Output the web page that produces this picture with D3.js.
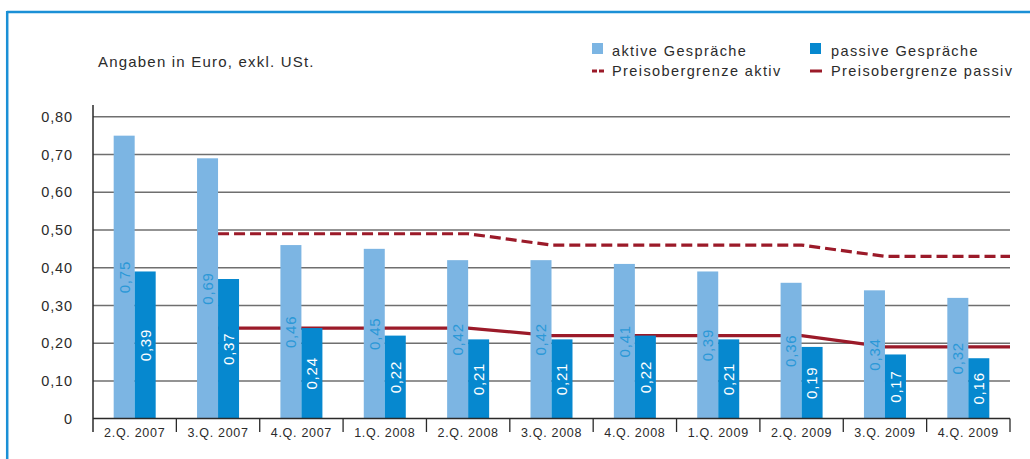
<!DOCTYPE html>
<html>
<head>
<meta charset="utf-8">
<script src="https://cdn.jsdelivr.net/npm/d3@7"></script>
<style>
  html, body { margin: 0; padding: 0; background: #fff; }
  svg { display: block; }
  text { font-family: "Liberation Sans", Arial, Helvetica, sans-serif; }
</style>
</head>
<body>
<svg id="chart" width="1030" height="459"></svg>
<script>
// Quarterly call prices (Euro, excl. VAT)
const quarters = ["2.Q. 2007", "3.Q. 2007", "4.Q. 2007", "1.Q. 2008", "2.Q. 2008", "3.Q. 2008",
                  "4.Q. 2008", "1.Q. 2009", "2.Q. 2009", "3.Q. 2009", "4.Q. 2009"];
const aktiv = [0.75, 0.69, 0.46, 0.45, 0.42, 0.42, 0.41, 0.39, 0.36, 0.34, 0.32];
const passiv = [0.39, 0.37, 0.24, 0.22, 0.21, 0.21, 0.22, 0.21, 0.19, 0.17, 0.16];
// Price caps (no cap before 3.Q. 2007)
const capAktiv = [null, 0.49, 0.49, 0.49, 0.49, 0.46, 0.46, 0.46, 0.46, 0.43, 0.43];
const capPassiv = [null, 0.24, 0.24, 0.24, 0.24, 0.22, 0.22, 0.22, 0.22, 0.19, 0.19];
const yTicks = [0, 0.1, 0.2, 0.3, 0.4, 0.5, 0.6, 0.7, 0.8];

const C = {
  light: "#7cb5e3",
  dark: "#0688cf",
  lightText: "#2b98d7",
  cap: "#9b1a29",
  frame: "#1b90d6",
  grid: "#6f6f6f",
  axis: "#2a2a2a",
  text: "#2b2b2b"
};

const svg = d3.select("#chart");

// Frame: top and left edges
svg.append("line").attr("x1", 7).attr("x2", 1030).attr("y1", 12).attr("y2", 12)
  .attr("stroke", C.frame).attr("stroke-width", 2.5);
svg.append("line").attr("x1", 7.2).attr("x2", 7.2).attr("y1", 11).attr("y2", 459)
  .attr("stroke", C.frame).attr("stroke-width", 2.5);

const x = d3.scaleBand().domain(quarters).range([93, 1010]).padding(0);
const y = d3.scaleLinear().domain([0, 0.8]).range([418.6, 116.8]);
const barW = 21;

const fmt = v => v === 0 ? "0" : d3.format(".2f")(v).replace(".", ",");

// Grid lines
svg.append("g").selectAll("line").data(yTicks.filter(t => t > 0)).join("line")
  .attr("x1", 93).attr("x2", 1010)
  .attr("y1", d => y(d)).attr("y2", d => y(d))
  .attr("stroke", C.grid).attr("stroke-width", 1.5);

// Y axis labels
svg.append("g").selectAll("text").data(yTicks).join("text")
  .attr("x", 73).attr("y", d => y(d))
  .attr("dy", "0.35em")
  .attr("text-anchor", "end")
  .attr("font-size", 14.5)
  .attr("letter-spacing", 0.9)
  .attr("fill", C.text)
  .text(fmt);

// Price cap lines (behind bars), continued to the right edge of the plot
const capLine = (vals) => {
  const pts = quarters.map((q, i) => ({ x: x(q) + x.bandwidth() / 2, v: vals[i] }))
    .filter(p => p.v !== null);
  pts.push({ x: x.range()[1], v: vals[vals.length - 1] });
  return d3.line().x(p => p.x).y(p => y(p.v))(pts);
};
svg.append("path").attr("d", capLine(capAktiv))
  .attr("fill", "none").attr("stroke", C.cap).attr("stroke-width", 3.2)
  .attr("stroke-dasharray", "11,5");
svg.append("path").attr("d", capLine(capPassiv))
  .attr("fill", "none").attr("stroke", C.cap).attr("stroke-width", 3.2);

// Bars
const g = svg.append("g");
const cx = q => x(q) + x.bandwidth() / 2;
g.selectAll("rect.a").data(quarters).join("rect").attr("class", "a")
  .attr("x", q => cx(q) - barW).attr("width", barW)
  .attr("y", (q, i) => y(aktiv[i])).attr("height", (q, i) => y(0) - y(aktiv[i]))
  .attr("fill", C.light);
g.selectAll("rect.p").data(quarters).join("rect").attr("class", "p")
  .attr("x", q => cx(q)).attr("width", barW)
  .attr("y", (q, i) => y(passiv[i])).attr("height", (q, i) => y(0) - y(passiv[i]))
  .attr("fill", C.dark);

// Value labels, rotated and centered inside each bar
const addLabels = (vals, off, color) => {
  g.selectAll(null).data(quarters).join("text")
    .attr("transform", (q, i) => {
      const lx = cx(q) + off;
      const ly = (y(vals[i]) + y(0)) / 2;
      return `translate(${lx},${ly}) rotate(-90)`;
    })
    .attr("text-anchor", "middle")
    .attr("dy", "0.36em")
    .attr("font-size", 15)
    .attr("letter-spacing", 0.8)
    .attr("fill", color)
    .text((q, i) => fmt(vals[i]));
};
addLabels(aktiv, -barW / 2, C.lightText);
addLabels(passiv, barW / 2, "#ffffff");

// Axes lines and category separators
svg.append("line").attr("x1", 93).attr("x2", 93).attr("y1", 105).attr("y2", 432)
  .attr("stroke", C.axis).attr("stroke-width", 1.5);
svg.append("line").attr("x1", 93).attr("x2", 1010).attr("y1", y(0)).attr("y2", y(0))
  .attr("stroke", C.axis).attr("stroke-width", 1.5);
svg.append("g").selectAll("line").data(quarters.map(q => x(q) + x.bandwidth()))
  .join("line")
  .attr("x1", d => d).attr("x2", d => d).attr("y1", y(0)).attr("y2", 432)
  .attr("stroke", C.axis).attr("stroke-width", 1.3);

// Category labels
svg.append("g").selectAll("text").data(quarters).join("text")
  .attr("x", q => cx(q)).attr("y", 437)
  .attr("text-anchor", "middle")
  .attr("font-size", 12.5)
  .attr("letter-spacing", 0.7)
  .attr("fill", C.text)
  .text(q => q);

// Unit note
svg.append("text").attr("x", 98).attr("y", 66.5)
  .attr("font-size", 15).attr("letter-spacing", 1.2).attr("fill", C.text)
  .text("Angaben in Euro, exkl. USt.");

// Legend
const lg = svg.append("g").attr("font-size", 14.5).attr("letter-spacing", 1.4).attr("fill", C.text);
lg.append("rect").attr("x", 592).attr("y", 43).attr("width", 11).attr("height", 11).attr("fill", C.light);
lg.append("text").attr("x", 612).attr("y", 56).text("aktive Gespräche");
lg.append("rect").attr("x", 810).attr("y", 43).attr("width", 11).attr("height", 11).attr("fill", C.dark);
lg.append("text").attr("x", 831).attr("y", 56).text("passive Gespräche");
lg.append("line").attr("x1", 592).attr("x2", 604).attr("y1", 71).attr("y2", 71)
  .attr("stroke", C.cap).attr("stroke-width", 3).attr("stroke-dasharray", "5,2");
lg.append("text").attr("x", 612).attr("y", 75.5).text("Preisobergrenze aktiv");
lg.append("line").attr("x1", 810).attr("x2", 822).attr("y1", 71).attr("y2", 71)
  .attr("stroke", C.cap).attr("stroke-width", 3);
lg.append("text").attr("x", 831).attr("y", 75.5).text("Preisobergrenze passiv");
</script>
</body>
</html>
